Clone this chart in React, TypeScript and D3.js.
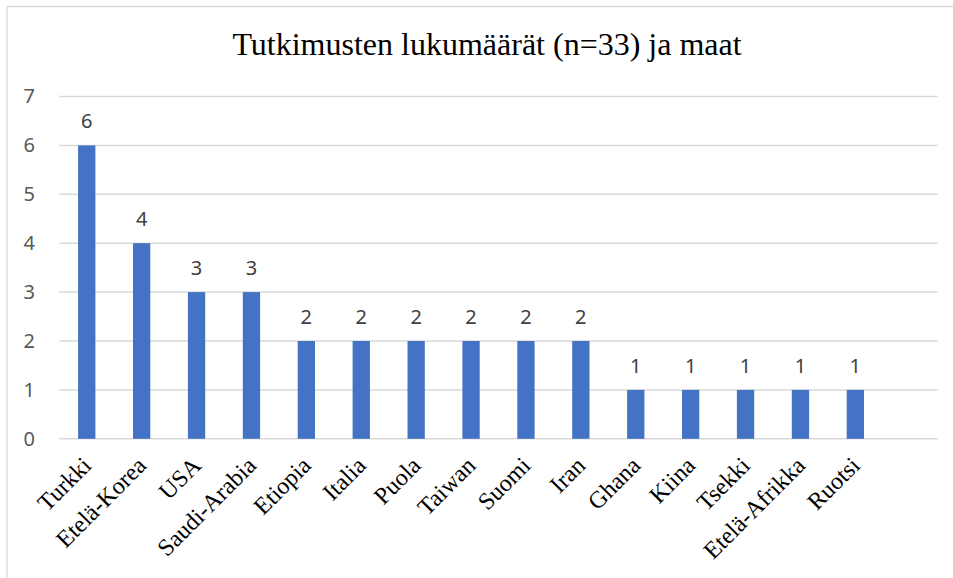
import React, { useRef, useEffect } from "react";
import { select, scaleBand, scaleLinear, axisLeft, format } from "d3";

// data
const countries = [
  "Turkki", "Etelä-Korea", "USA", "Saudi-Arabia", "Etiopia", "Italia", "Puola",
  "Taiwan", "Suomi", "Iran", "Ghana", "Kiina", "Tsekki", "Etelä-Afrikka", "Ruotsi",
];
const studies = [6, 4, 3, 3, 2, 2, 2, 2, 2, 2, 1, 1, 1, 1, 1];
const yTicks = [0, 1, 2, 3, 4, 5, 6, 7];
const title = "Tutkimusten lukumäärät (n=33) ja maat";

const W = 953;
const H = 578;

function BarChart() {
  const svgRef = useRef<SVGSVGElement>(null);

  useEffect(() => {
    const svg = select(svgRef.current);
    svg.selectAll("*").remove();

    const left = 59.3;
    const right = 937.7;
    const step = (right - left) / (countries.length + 1);

    //scales
    const x = scaleBand<string>()
      .domain(countries)
      .range([left, left + step * countries.length])
      .padding(0);
    const barW = x.bandwidth() * 0.315;

    const y = scaleLinear().domain([0, 7]).range([438.8, 96.5]);

    // frame
    svg.append("line")
      .attr("x1", 7).attr("x2", W).attr("y1", 6.5).attr("y2", 6.5)
      .attr("stroke", "#d9d9d9").attr("stroke-width", 1.3);
    svg.append("line")
      .attr("x1", 7).attr("x2", 7).attr("y1", 6.5).attr("y2", H)
      .attr("stroke", "#d9d9d9").attr("stroke-width", 1.3);

    //title
    svg.append("text")
      .attr("x", 487).attr("y", 55)
      .attr("text-anchor", "middle")
      .style("font-family", "'Liberation Serif', serif")
      .style("font-size", "32px")
      .attr("fill", "#000")
      .text(title);

    //gridlines
    svg.append("g")
      .selectAll("line")
      .data(yTicks)
      .join("line")
      .attr("x1", left).attr("x2", right)
      .attr("y1", (d) => y(d)).attr("y2", (d) => y(d))
      .attr("stroke", "#d9d9d9").attr("stroke-width", 1.5);

    //y axis labels
    const yAxis = axisLeft(y).tickValues(yTicks).tickFormat(format("d")).tickSize(0).tickPadding(0);
    const ga = svg.append("g").attr("transform", "translate(35,0)").call(yAxis);
    ga.select(".domain").remove();
    ga.selectAll("text")
      .attr("fill", "#595959")
      .style("font-family", "'Noto Sans', sans-serif")
      .style("font-size", "20px");

    //bars
    svg.append("g")
      .selectAll("rect")
      .data(studies)
      .join("rect")
      .attr("x", (d, i) => x(countries[i])! + (x.bandwidth() - barW) / 2)
      .attr("y", (d) => y(d))
      .attr("width", barW)
      .attr("height", (d) => y(0) - y(d))
      .attr("fill", "#4472c4");

    //value labels
    svg.append("g")
      .selectAll("text")
      .data(studies)
      .join("text")
      .attr("x", (d, i) => x(countries[i])! + x.bandwidth() / 2)
      .attr("y", (d) => y(d) - 17.4)
      .attr("text-anchor", "middle")
      .attr("fill", "#404040")
      .style("font-family", "'Noto Sans', sans-serif")
      .style("font-size", "20px")
      .text((d) => d);

    //category labels
    svg.append("g")
      .selectAll("text")
      .data(countries)
      .join("text")
      .attr("transform", (d) => `translate(${x(d)! + x.bandwidth() / 2 + 6},467) rotate(-45)`)
      .attr("text-anchor", "end")
      .attr("fill", "#000")
      .style("font-family", "'Liberation Serif', serif")
      .style("font-size", "24px")
      .text((d) => d);
  }, []);

  return (
    <svg
      ref={svgRef}
      width={W}
      height={H}
      style={{ position: "absolute", left: 0, top: 0, background: "#fff" }}
    />
  );
}

export default function App() {
  return <BarChart />;
}
